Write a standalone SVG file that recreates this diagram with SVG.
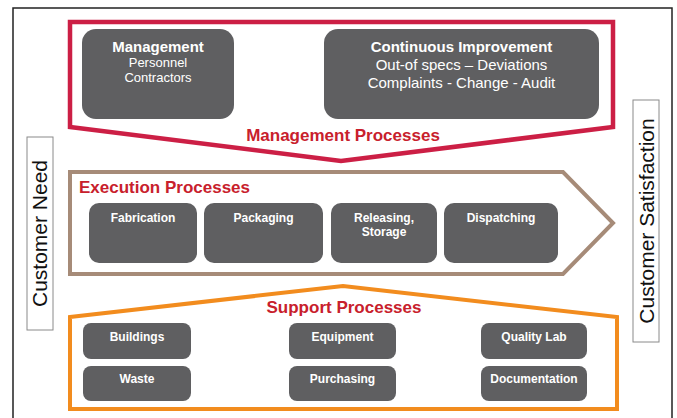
<svg xmlns="http://www.w3.org/2000/svg" width="677" height="418" viewBox="0 0 677 418">
<style>
text{font-family:"Liberation Sans",Arial,sans-serif}
.box{fill:#5f5f61}
.w{fill:#ffffff;text-anchor:middle}
.wb{fill:#ffffff;text-anchor:middle;font-weight:bold}
.hd{fill:#c8202c;font-weight:bold;font-size:17px}
.cust{fill:#ffffff;stroke:#8a8a8a;stroke-width:1}
.ct{fill:#111111;font-size:21px;text-anchor:middle}
</style>
<rect x="0" y="0" width="677" height="418" fill="#ffffff"/>
<rect x="13" y="8" width="659" height="420" fill="none" stroke="#222222" stroke-width="1.5"/>

<g id="customer-need">
<rect class="cust" x="27" y="137" width="26" height="193"/>
<text class="ct" transform="translate(47,233.5) rotate(-90)">Customer Need</text>
</g>
<g id="customer-satisfaction">
<rect class="cust" x="633" y="100" width="26" height="242"/>
<text class="ct" transform="translate(654,221) rotate(-90)">Customer Satisfaction</text>
</g>

<g id="management-processes">
<path d="M70,22 L613,22 L613,127 L341,161 L70,127 Z" fill="none" stroke="#cc1f45" stroke-width="4.5" stroke-linejoin="miter"/>
<text class="hd" x="343" y="141" text-anchor="middle">Management Processes</text>
</g>
<g id="management">
<rect class="box" x="82" y="29" width="152" height="90" rx="14"/>
<text class="wb" x="158" y="52" font-size="15">Management</text>
<text class="w" x="158" y="67" font-size="13">Personnel</text>
<text class="w" x="158" y="82" font-size="13">Contractors</text>
</g>
<g id="continuous-improvement">
<rect class="box" x="324" y="29" width="275" height="90" rx="14"/>
<text class="wb" x="461.5" y="52" font-size="15">Continuous Improvement</text>
<text class="w" x="461.5" y="70" font-size="15">Out-of specs – Deviations</text>
<text class="w" x="461.5" y="88" font-size="15">Complaints - Change - Audit</text>
</g>

<g id="execution-processes">
<path d="M70,172 L563,172 L613,223 L563,274 L70,274 Z" fill="none" stroke="#a68b78" stroke-width="4" stroke-linejoin="miter"/>
<text class="hd" x="79" y="193">Execution Processes</text>
</g>
<g id="fabrication">
<rect class="box" x="89" y="203" width="108" height="60" rx="10"/>
<text class="wb" x="143" y="222" font-size="12">Fabrication</text>
</g>
<g id="packaging">
<rect class="box" x="204" y="203" width="119" height="60" rx="10"/>
<text class="wb" x="263.5" y="222" font-size="12">Packaging</text>
</g>
<g id="releasing-storage">
<rect class="box" x="331" y="203" width="106" height="60" rx="10"/>
<text class="wb" x="384" y="222" font-size="12">Releasing,</text>
<text class="wb" x="384" y="236" font-size="12">Storage</text>
</g>
<g id="dispatching">
<rect class="box" x="444" y="203" width="114" height="60" rx="10"/>
<text class="wb" x="501" y="222" font-size="12">Dispatching</text>
</g>

<g id="support-processes">
<path d="M70,317 L343,286 L617,317 L617,409 L70,409 Z" fill="none" stroke="#f28c1e" stroke-width="4" stroke-linejoin="miter"/>
<text class="hd" x="344" y="313" text-anchor="middle">Support Processes</text>
</g>
<g id="buildings">
<rect class="box" x="83" y="323" width="108" height="36" rx="8"/>
<text class="wb" x="137" y="341" font-size="12">Buildings</text>
</g>
<g id="waste">
<rect class="box" x="83" y="366" width="108" height="35" rx="8"/>
<text class="wb" x="137" y="383" font-size="12">Waste</text>
</g>
<g id="equipment">
<rect class="box" x="289" y="323" width="107" height="36" rx="8"/>
<text class="wb" x="342.5" y="341" font-size="12">Equipment</text>
</g>
<g id="purchasing">
<rect class="box" x="289" y="366" width="107" height="35" rx="8"/>
<text class="wb" x="342.5" y="383" font-size="12">Purchasing</text>
</g>
<g id="quality-lab">
<rect class="box" x="481" y="323" width="106" height="36" rx="8"/>
<text class="wb" x="534" y="341" font-size="12">Quality Lab</text>
</g>
<g id="documentation">
<rect class="box" x="481" y="366" width="106" height="35" rx="8"/>
<text class="wb" x="534" y="383" font-size="12">Documentation</text>
</g>

<g id="connectors"></g>
</svg>
